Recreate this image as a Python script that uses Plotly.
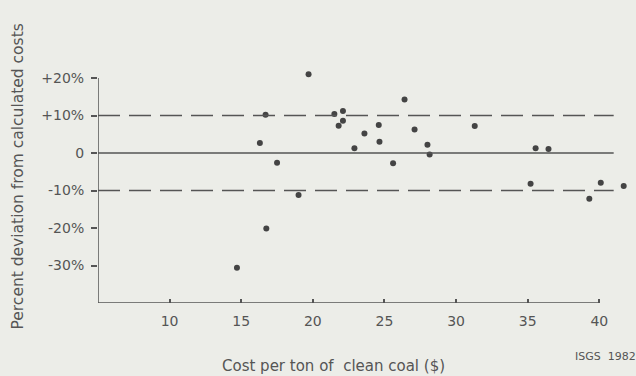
import plotly.graph_objects as go

# Data
cost = [19.7, 16.7, 21.5, 22.1, 22.1, 21.8, 16.3, 22.9, 17.5, 19.0, 16.75, 14.7,
        26.4, 23.6, 24.6, 24.65, 25.6, 27.1, 28.0, 28.15, 31.3, 35.55, 36.45,
        35.2, 39.3, 40.1, 41.7]
deviation = [21.0, 10.2, 10.4, 11.2, 8.6, 7.3, 2.7, 1.3, -2.6, -11.2, -20.1, -30.6,
             14.3, 5.2, 7.5, 3.0, -2.7, 6.3, 2.2, -0.4, 7.2, 1.3, 1.1,
             -8.2, -12.2, -7.9, -8.8]
x_ticks = [10, 15, 20, 25, 30, 35, 40]
y_ticks = [20, 10, 0, -10, -20, -30]
y_ticktext = ["+20%", "+10%", "0", "-10%", "-20%", "-30%"]
band = [10, -10]

BG = "#ecede8"
INK = "#555555"
FONT = "DejaVu Sans"

fig = go.Figure()
fig.add_trace(go.Scatter(x=cost, y=deviation, mode="markers",
                         marker=dict(size=6, color="#444444"),
                         cliponaxis=False, showlegend=False, hoverinfo="skip"))

# axes lines
fig.add_shape(type="line", x0=5, x1=5, y0=-40, y1=20, line=dict(color=INK, width=1.5))
fig.add_shape(type="line", x0=5, x1=40, y0=-40, y1=-40, line=dict(color=INK, width=1.5))
# zero line
fig.add_shape(type="line", x0=5, x1=41, y0=0, y1=0, line=dict(color=INK, width=1.5))
# dashed +/-10% lines
for b in band:
    fig.add_shape(type="line", x0=5, x1=41, y0=b, y1=b,
                  line=dict(color=INK, width=1.5, dash="22px,9px"))

fig.update_layout(
    width=636, height=376,
    margin=dict(l=98, r=8, t=63, b=73),
    paper_bgcolor=BG, plot_bgcolor=BG,
    font=dict(family=FONT, color=INK, size=14),
    xaxis=dict(range=[5, 42], tickvals=x_ticks, ticks="inside", ticklen=4,
               tickcolor=INK, tickwidth=1.5, showgrid=False, zeroline=False,
               showline=False, ticklabelstandoff=8,
               tickfont=dict(size=14, color=INK, family=FONT)),
    yaxis=dict(range=[-40, 24], tickvals=y_ticks, ticktext=y_ticktext,
               ticks="outside", ticklen=6, tickcolor=INK, tickwidth=1.5,
               showgrid=False, zeroline=False, showline=False,
               ticklabelstandoff=4,
               tickfont=dict(size=14, color=INK, family=FONT)),
    annotations=[
        dict(text="Cost per ton of  clean coal ($)", xref="paper", yref="paper",
             x=(333 - 98) / 530, y=-(366 - 303) / 240, showarrow=False,
             xanchor="center", yanchor="middle",
             font=dict(size=15, color=INK, family=FONT)),
        dict(text="Percent deviation from calculated costs", xref="paper", yref="paper",
             x=-(98 - 17) / 530, y=(303 - 176.5) / 240, showarrow=False,
             textangle=-90, xanchor="center", yanchor="middle",
             font=dict(size=15.5, color=INK, family=FONT)),
        dict(text="ISGS  1982", xref="paper", yref="paper",
             x=(636 - 98 + 2) / 530, y=-(356 - 303) / 240, showarrow=False,
             xanchor="right", yanchor="middle",
             font=dict(size=11, color=INK, family=FONT)),
    ],
)

fig.write_html("out.html", config={"displayModeBar": False},
               post_script="document.body.style.margin='0';"
                           "document.body.style.background='" + BG + "';")
